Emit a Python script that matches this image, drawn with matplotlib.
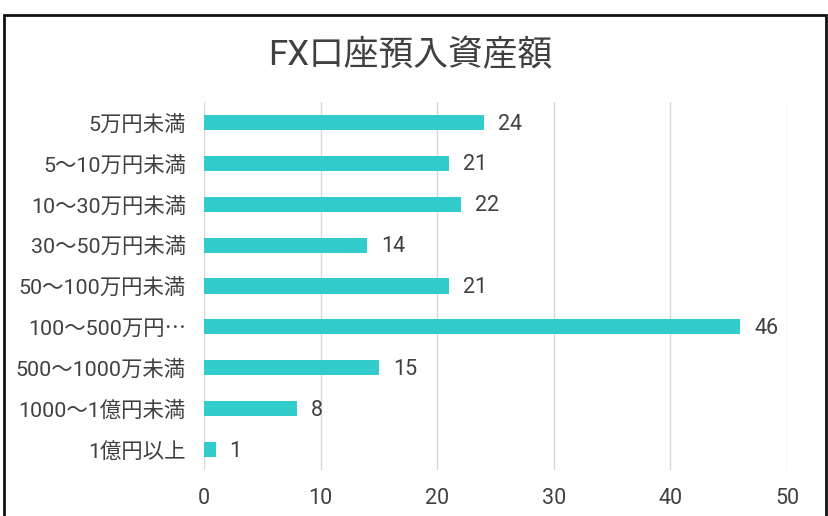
import matplotlib
matplotlib.use("Agg")
import matplotlib.pyplot as plt
from matplotlib.patches import Rectangle

plt.rcParams['font.family'] = ['Roboto', 'Noto Sans CJK JP', 'DejaVu Sans']

# data (top to bottom as shown)
categories = ["5万円未満", "5～10万円未満", "10～30万円未満", "30～50万円未満",
              "50～100万円未満", "100～500万円⋯", "500～1000万未満",
              "1000～1億円未満", "1億円以上"]
counts = [24, 21, 22, 14, 21, 46, 15, 8, 1]
x_ticks = [0, 10, 20, 30, 40, 50]

BAR_COLOR = "#33CCCC"
TEXT_COLOR = "#404040"

fig = plt.figure(figsize=(8.29, 5.16), dpi=100)
ax = fig.add_axes([204 / 829, 1 - 470 / 516, (787 - 204) / 829, 368 / 516])

ypos = list(range(len(categories)))
ax.barh(ypos, counts, height=0.37, color=BAR_COLOR, zorder=3)
for y, v in zip(ypos, counts):
    ax.text(v + 1.2, y + 0.04, str(v), va="center", ha="left", fontsize=15.5, color=TEXT_COLOR)

ax.set_yticks(ypos)
ax.set_yticklabels(categories, fontsize=15.4, color=TEXT_COLOR)
ax.set_ylim(len(categories) - 0.5, -0.5)
ax.set_xlim(0, 50)
ax.set_xticks(x_ticks)
ax.set_xticklabels([str(t) for t in x_ticks], fontsize=15.5, color=TEXT_COLOR)
ax.tick_params(length=0, pad=13)
ax.tick_params(axis="x", pad=13)
ax.grid(axis="x", color="#D9D9D9", linewidth=1, zorder=0)
for s in ax.spines.values():
    s.set_visible(False)

fig.text(410 / 829, 1 - 56 / 516, "FX口座預入資産額", ha="center", va="center",
         fontsize=25, color=TEXT_COLOR)

# chart border (bottom edge runs off the image)
fig.patches.append(Rectangle((4 / 829, -0.1), 822 / 829, 1.1 - 15 / 516,
                             transform=fig.transFigure, fill=False,
                             edgecolor="#111111", linewidth=2))

fig.savefig("out.png", dpi=100)
